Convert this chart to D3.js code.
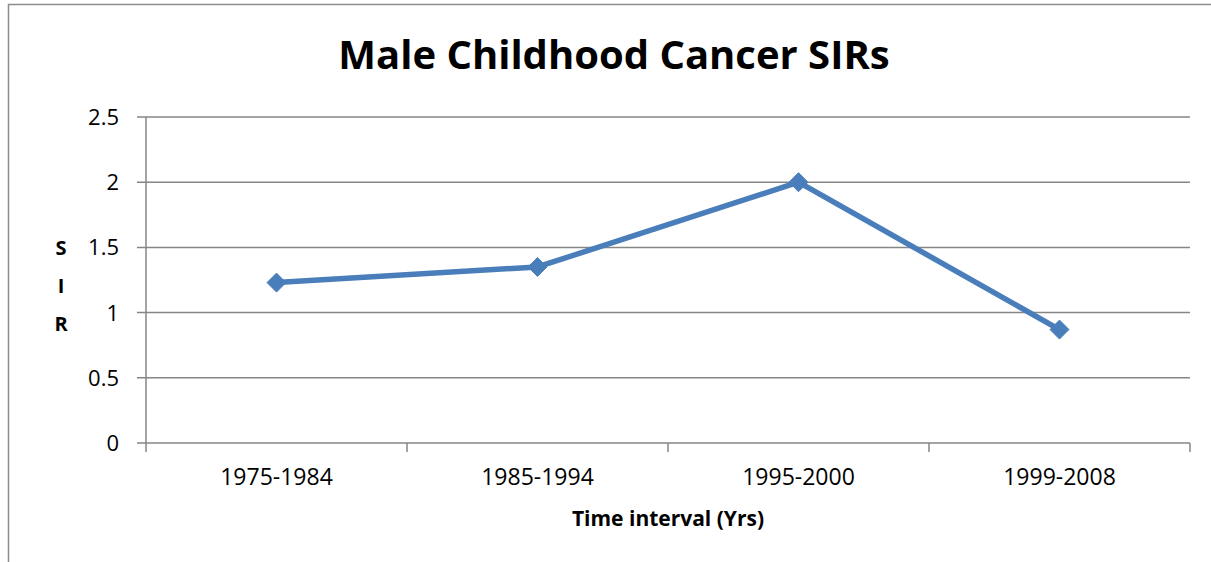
<!DOCTYPE html>
<html>
<head>
<meta charset="utf-8">
<script src="https://cdn.jsdelivr.net/npm/d3@7"></script>
<style>
  body { margin: 0; background: #fff; }
  text { font-family: "Open Sans", "Noto Sans", sans-serif; fill: #000; }
</style>
</head>
<body>
<div id="chart"></div>
<script>
// data
const intervals = ["1975-1984", "1985-1994", "1995-2000", "1999-2008"];
const sir = [1.23, 1.35, 2.0, 0.87];
const yTicks = [0, 0.5, 1, 1.5, 2, 2.5];

const width = 1211;
const height = 562;
const margin = { top: 117, right: 21, bottom: 119, left: 146 };

const svg = d3.select("#chart")
  .append("svg")
  .attr("width", width)
  .attr("height", height);

// chart border (left + top only visible)
svg.append("path")
  .attr("d", `M8.5,${height} V4.5 H${width}`)
  .attr("fill", "none")
  .attr("stroke", "#8c8c8c")
  .attr("stroke-width", 1.5);

const x = d3.scaleBand()
  .domain(intervals)
  .range([margin.left, width - margin.right]);

const y = d3.scaleLinear()
  .domain([0, 2.5])
  .range([height - margin.bottom, margin.top]);

// gridlines
svg.append("g")
  .selectAll("line")
  .data(yTicks)
  .join("line")
  .attr("x1", margin.left - 9)
  .attr("x2", width - margin.right)
  .attr("y1", d => y(d))
  .attr("y2", d => y(d))
  .attr("stroke", "#868686")
  .attr("stroke-width", 1.5);

// y axis line
svg.append("line")
  .attr("x1", margin.left).attr("x2", margin.left)
  .attr("y1", margin.top).attr("y2", y(0) + 9)
  .attr("stroke", "#868686")
  .attr("stroke-width", 1.5);

// x tick marks at band boundaries
const bounds = intervals.map(d => x(d)).concat([x.range()[1]]);
svg.append("g")
  .selectAll("line")
  .data(bounds.slice(1))
  .join("line")
  .attr("x1", d => d).attr("x2", d => d)
  .attr("y1", y(0)).attr("y2", y(0) + 9)
  .attr("stroke", "#868686")
  .attr("stroke-width", 1.5);

// y tick labels
svg.append("g")
  .selectAll("text")
  .data(yTicks)
  .join("text")
  .attr("x", 119)
  .attr("y", d => y(d))
  .attr("dy", "0.36em")
  .attr("text-anchor", "end")
  .style("font-size", "22px")
  .text(d => d);

// x tick labels
svg.append("g")
  .selectAll("text")
  .data(intervals)
  .join("text")
  .attr("x", d => x(d) + x.bandwidth() / 2)
  .attr("y", 485)
  .attr("text-anchor", "middle")
  .style("font-size", "23px")
  .text(d => d);

// line
const line = d3.line()
  .x((d, i) => x(intervals[i]) + x.bandwidth() / 2)
  .y(d => y(d));

svg.append("path")
  .datum(sir)
  .attr("d", line)
  .attr("fill", "none")
  .attr("stroke", "#4a7ebb")
  .attr("stroke-width", 5.5)
  .attr("stroke-linejoin", "round");

// diamond markers
svg.append("g")
  .selectAll("path")
  .data(sir)
  .join("path")
  .attr("transform", (d, i) => `translate(${x(intervals[i]) + x.bandwidth() / 2},${y(d)})`)
  .attr("d", "M0,-9.5 L9.5,0 L0,9.5 L-9.5,0 Z")
  .attr("fill", "#4a7ebb")
  .attr("stroke", "#4a7ebb")
  .attr("stroke-width", 1);

// title
svg.append("text")
  .attr("x", 614)
  .attr("y", 69)
  .attr("text-anchor", "middle")
  .style("font-size", "40px")
  .style("font-weight", "bold")
  .text("Male Childhood Cancer SIRs");

// x axis title
svg.append("text")
  .attr("x", 668)
  .attr("y", 526)
  .attr("text-anchor", "middle")
  .style("font-size", "21px")
  .style("font-weight", "bold")
  .text("Time interval (Yrs)");

// y axis title, stacked letters
svg.append("g")
  .selectAll("text")
  .data(["S", "I", "R"])
  .join("text")
  .attr("x", 61)
  .attr("y", (d, i) => 255 + i * 38)
  .attr("text-anchor", "middle")
  .style("font-size", "20px")
  .style("font-weight", "bold")
  .text(d => d);
</script>
</body>
</html>
